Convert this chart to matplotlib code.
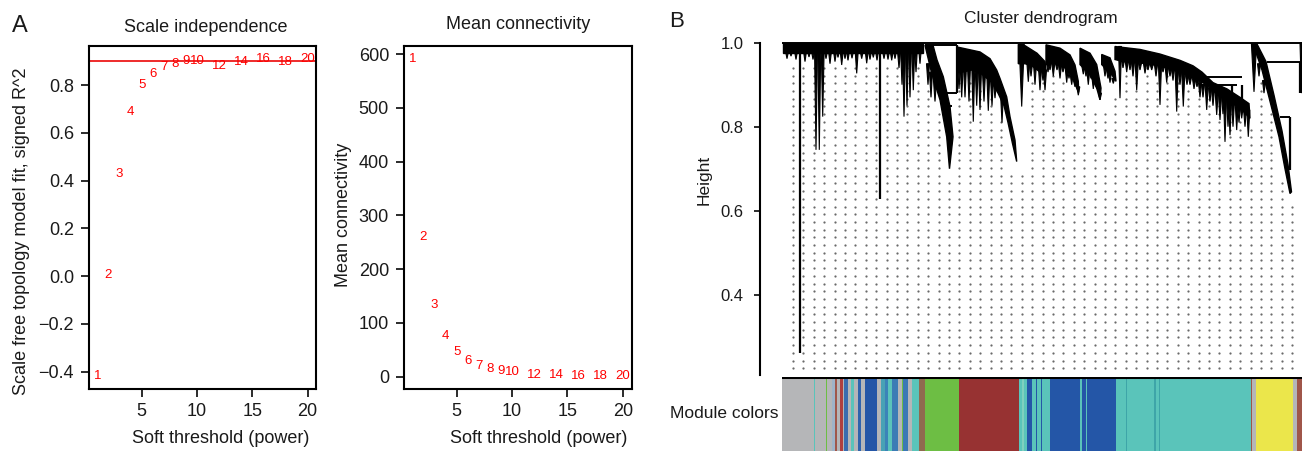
import numpy as np
import matplotlib
matplotlib.use('Agg')
import matplotlib.pyplot as plt

plt.rcParams['font.family'] = ['Liberation Sans', 'DejaVu Sans']
TXT = '#1a1a1a'

W, H = 1308, 451

# ---------------- panel A : soft threshold ----------------
powers = [1, 2, 3, 4, 5, 6, 7, 8, 9, 10, 12, 14, 16, 18, 20]
sft_r2 = [-0.419, 0.004, 0.43, 0.688, 0.803, 0.846, 0.877, 0.888, 0.90, 0.90,
          0.881, 0.896, 0.912, 0.899, 0.909]
mean_k = [591, 260, 134, 76, 46, 30, 20, 14, 11, 8, 4, 2.5, 1.8, 1.4, 1.1]
r2_cut = 0.90

# ---------------- panel B : dendrogram (leaf order 0..520) ----------------
# outline of each module branch (leaf position, height)
grey_u = [1, 141, 141, 1]
grey_h = [1.0, 1.0, 0.976, 0.976]
green_u = [143, 151, 155, 161.3, 168, 171, 167.5, 164.7, 158, 149.7]
green_h = [0.994, 0.994, 0.959, 0.919, 0.848, 0.776, 0.70, 0.776, 0.864, 0.927]
red_u = [174.7, 198, 208, 214.7, 218, 224.7, 228, 233, 234.7,
         230.5, 226, 222, 216, 210, 200, 190, 180, 174.7]
red_h = [0.99, 0.978, 0.962, 0.935, 0.915, 0.871, 0.824, 0.768, 0.717,
         0.76, 0.81, 0.85, 0.88, 0.905, 0.925, 0.935, 0.93, 0.94]
mixed_u = [236.3, 243, 255, 263, 264, 258, 250, 243, 236.3]
mixed_h = [0.996, 0.993, 0.975, 0.955, 0.935, 0.93, 0.945, 0.95, 0.95]
blue1_u = [264, 278, 288, 293, 296.3, 296.7, 294.7, 289.7, 281.3, 271.3, 264]
blue1_h = [0.995, 0.987, 0.971, 0.947, 0.908, 0.882, 0.892, 0.924, 0.944, 0.952, 0.948]
blue2_u = [298, 308, 314.7, 319, 318, 314.7, 308, 301.3, 298]
blue2_h = [0.987, 0.975, 0.948, 0.892, 0.864, 0.892, 0.924, 0.94, 0.948]
blue3_u = [319.7, 328, 333, 334, 329.7, 323, 319.7]
blue3_h = [0.972, 0.964, 0.932, 0.908, 0.924, 0.94, 0.948]
turq_u = [333, 358, 378, 398, 411, 420, 431, 445, 458, 467, 468,
          460, 448, 436, 425, 411, 398, 378, 358, 341, 333]
turq_h = [0.991, 0.984, 0.973, 0.958, 0.945, 0.93, 0.905, 0.89, 0.87, 0.855, 0.82,
          0.84, 0.86, 0.875, 0.9, 0.915, 0.93, 0.945, 0.952, 0.955, 0.96]
yellow_u = [471, 475, 484, 492, 500, 506, 509.5, 508, 503, 497, 488.5, 480]
yellow_h = [0.997, 0.997, 0.955, 0.875, 0.79, 0.71, 0.645, 0.641, 0.70, 0.776, 0.856, 0.935]

# hanging leaves / small sub-branches
spike_u = [5, 9, 14, 23, 27, 31, 34, 37.3, 40.7, 44, 48, 53, 56, 59.7, 63, 66, 70, 74.7,
           79.7, 84.7, 88, 91.3, 95, 102, 106, 109.7, 113, 117,
           120, 122, 125, 128, 131.3, 134, 138,
           146, 149, 153,
           177, 179.7, 183, 187, 191.3, 194.7, 198, 202, 206.3, 210, 213, 220,
           239.7, 246.3, 249, 253, 258, 261, 263,
           266, 268, 271.3, 275, 278, 281, 284.7, 287, 289.7, 293, 296.3,
           301.3, 304, 306.3, 309, 311.3, 315, 318,
           323, 326, 328, 331.3,
           338, 341, 344.7, 348, 351, 354.7, 358, 363, 366, 369.7, 374, 378, 381,
           384.7, 388, 391, 394.7, 398, 401.3, 405, 408, 412, 415, 418,
           421, 424.7, 428, 431, 434.7, 438, 441, 443, 446, 448, 451, 454.7, 457,
           459.7, 463, 466.3,
           472, 477, 482, 519.5]
spike_top = [0.98, 0.98, 0.98, 0.98, 0.98, 0.98, 0.99, 0.99, 0.99, 0.98, 0.98, 0.98, 0.98,
             0.98, 0.98, 0.98, 0.98, 0.98,
             0.98, 0.98, 0.98, 0.98, 0.98, 0.98, 0.98, 0.98, 0.98, 0.98,
             0.99, 0.99, 0.99, 0.99, 0.99, 0.99, 0.99,
             0.95, 0.93, 0.91,
             0.95, 0.945, 0.945, 0.945, 0.945, 0.94, 0.935, 0.93, 0.925, 0.915, 0.905, 0.88,
             0.996, 0.955, 0.95, 0.95, 0.94, 0.935, 0.935,
             0.952, 0.952, 0.952, 0.95, 0.948, 0.945, 0.94, 0.935, 0.925, 0.91, 0.895,
             0.945, 0.94, 0.935, 0.93, 0.92, 0.9, 0.88,
             0.945, 0.935, 0.93, 0.915,
             0.991, 0.958, 0.957, 0.955, 0.954, 0.952, 0.951, 0.95, 0.949, 0.948, 0.947,
             0.945, 0.944,
             0.942, 0.94, 0.936, 0.932, 0.93, 0.926, 0.922, 0.918, 0.914, 0.91, 0.905,
             0.9, 0.897, 0.893, 0.888, 0.882, 0.878, 0.874, 0.872, 0.868, 0.864, 0.86,
             0.856, 0.852,
             0.848, 0.844, 0.84,
             0.998, 0.95, 0.91, 1.0]
spike_bottom = [0.962, 0.968, 0.96, 0.955, 0.966, 0.96, 0.745, 0.745, 0.824, 0.962, 0.95,
                0.955, 0.965, 0.947, 0.962, 0.958, 0.963, 0.927,
                0.962, 0.951, 0.96, 0.965, 0.958, 0.962, 0.96, 0.958, 0.962, 0.94,
                0.90, 0.824, 0.85, 0.87, 0.887, 0.93, 0.95,
                0.9, 0.87, 0.86,
                0.89, 0.87, 0.87, 0.86, 0.812, 0.85, 0.84, 0.86, 0.838, 0.85, 0.868, 0.81,
                0.848, 0.907, 0.92, 0.90, 0.887, 0.91, 0.887,
                0.93, 0.935, 0.92, 0.935, 0.915, 0.93, 0.905, 0.915, 0.9, 0.895, 0.875,
                0.925, 0.92, 0.9, 0.915, 0.89, 0.89, 0.864,
                0.92, 0.915, 0.905, 0.903,
                0.868, 0.94, 0.93, 0.935, 0.92, 0.887, 0.935, 0.927, 0.935, 0.935, 0.92,
                0.852, 0.93,
                0.905, 0.92, 0.91, 0.836, 0.9, 0.848, 0.9, 0.90, 0.89, 0.895, 0.87,
                0.87, 0.84, 0.86, 0.85, 0.828, 0.816, 0.83, 0.764, 0.8, 0.78, 0.8, 0.792,
                0.81, 0.82, 0.8, 0.776,
                0.883, 0.92, 0.88, 0.88]

# horizontal merges and long single leaves
merge_u0 = [0, 143, 163, 164.7, 484.7, 498, 418, 418]
merge_u1 = [520, 174.7, 174.7, 169.7, 518, 508, 460, 455]
merge_h = [1.0, 0.994, 0.88, 0.85, 0.955, 0.824, 0.919, 0.90]
vert_u = [18, 98, 174.7, 518, 508, 449.7, 459.7]
vert_top = [0.99, 0.99, 0.994, 0.955, 0.824, 0.90, 0.90]
vert_bottom = [0.261, 0.627, 0.88, 0.88, 0.697, 0.85, 0.84]

# module colour bar
GREY, TURQ, BLUE, RED, GREEN = '#b5b6b8', '#5ac4ba', '#2456a7', '#973232', '#6dbe44'
YELLOW, BROWN = '#ebe64b', '#a0564a'
stripe_left = [0, 31.8, 32.8, 43.6, 44.6, 50.4, 52.7, 55.4, 58, 60.5, 62.2, 65.6, 69,
               72.3, 76.4, 79.1, 82.5, 95.3, 99.4, 102.8, 106, 109.5, 116.2, 119.6,
               121.3, 126.4, 129.8, 136.5, 143.3, 177.1, 236.9, 239.6, 242, 244.6,
               249.7, 254, 255, 258.5, 259.5, 267.6, 298, 299.7, 303.7, 305.4, 334.1,
               343.5, 344.5, 372, 373.5, 377, 378, 469, 470, 474, 511, 514.5]
stripe_color = [GREY, TURQ, GREY, GREEN, GREY, '#9fb3c8', BROWN, GREY, '#b04040', GREY,
                '#3b6db0', GREY, TURQ, GREY, '#2f63ad', GREY, BLUE, GREY, '#48a2b5',
                '#3b83b8', TURQ, '#3c7cb5', GREY, GREEN, '#3a78b5', GREY, TURQ,
                '#8f6a4f', GREEN, RED, TURQ, '#7fd0bf', TURQ, BLUE, TURQ, BLUE, TURQ,
                BLUE, TURQ, BLUE, TURQ, BLUE, TURQ, BLUE, TURQ, '#3ea5a8', TURQ,
                '#3ea5a8', TURQ, '#3ea5a8', TURQ, BROWN, GREY, YELLOW, GREY, BROWN]
stripe_end = 519.5

fig = plt.figure(figsize=(W / 100, H / 100), dpi=100)


def px_axes(l, t, r, b):
    return fig.add_axes([l / W, 1 - b / H, (r - l) / W, (b - t) / H])


def r_style(ax):
    for s in ax.spines.values():
        s.set_linewidth(1.5)
    ax.tick_params(direction='out', length=5.8, width=1.3, labelsize=13,
                   pad=5, colors=TXT)


# ---- scale independence
ax1 = px_axes(89, 45.5, 316, 388.5)
ax1.set_xlim(0.24, 20.76)
ax1.set_ylim(-0.471, 0.9665)
for p, v in zip(powers, sft_r2):
    ax1.text(p, v, str(p), color='red', ha='center', va='center', fontsize=9.5)
ax1.axhline(r2_cut, color='#ee2b2b', lw=1.4)
ax1.set_xticks([5, 10, 15, 20])
ax1.set_yticks([-0.4, -0.2, 0.0, 0.2, 0.4, 0.6, 0.8])
ax1.set_yticklabels(['\u22120.4', '\u22120.2', '0.0', '0.2', '0.4', '0.6', '0.8'])
r_style(ax1)
ax1.set_xlabel('Soft threshold (power)', fontsize=13, color=TXT, va='baseline')
ax1.xaxis.set_label_coords(0.581, -0.16)
ax1.set_ylabel('Scale free topology model fit, signed R^2', fontsize=13, color=TXT)
ax1.yaxis.set_label_coords(-0.26, 0.459)
ax1.text(0.515, 1.040, 'Scale independence', transform=ax1.transAxes,
         ha='center', va='baseline', fontsize=13, color=TXT)

# ---- mean connectivity
ax2 = px_axes(404, 46, 632, 388.5)
ax2.set_xlim(0.24, 20.83)
ax2.set_ylim(-21.9, 614.9)
for p, v in zip(powers, mean_k):
    ax2.text(p, v, str(p), color='red', ha='center', va='center', fontsize=9.5)
ax2.set_xticks([5, 10, 15, 20])
ax2.set_yticks([0, 100, 200, 300, 400, 500, 600])
r_style(ax2)
ax2.set_xlabel('Soft threshold (power)', fontsize=13, color=TXT, va='baseline')
ax2.xaxis.set_label_coords(0.59, -0.16)
ax2.set_ylabel('Mean connectivity', fontsize=13, color=TXT)
ax2.yaxis.set_label_coords(-0.228, 0.506)
ax2.text(0.5, 1.049, 'Mean connectivity', transform=ax2.transAxes,
         ha='center', va='baseline', fontsize=13, color=TXT)

# ---- cluster dendrogram
ax3 = px_axes(782, 38, 1302, 375)
ax3.set_xlim(0, 520)
ax3.set_ylim(0.209, 1.0112)
outlines = [(grey_u, grey_h), (green_u, green_h), (red_u, red_h), (mixed_u, mixed_h),
            (blue1_u, blue1_h), (blue2_u, blue2_h), (blue3_u, blue3_h),
            (turq_u, turq_h), (yellow_u, yellow_h)]

# leaf texture below the branches
cols = np.arange(11, 520, 10.4)
rows = np.arange(0.225, 1.0, 7.7 / 420)
ou = np.concatenate([o[0] for o in outlines])
oh = np.concatenate([o[1] for o in outlines])
dx, dy = [], []
for c in cols:
    near = oh[np.abs(ou - c) < 6]
    lim = near.min() if len(near) else 0.976
    for r in rows[rows < lim - 0.025]:
        dx.append(c)
        dy.append(r)
ax3.scatter(dx, dy, s=2.6, color='#6a6a6a', lw=0, zorder=1)

for bu, bh in outlines:
    ax3.fill(bu, bh, color='k', lw=1.0, ec='k', zorder=3)
for u, t, b in zip(spike_u, spike_top, spike_bottom):
    w = 2.6 if u in (239.7, 472) else 1.5
    ax3.fill([u - w, u + w, u], [t, t, b], color='k', lw=0.8, ec='k', zorder=3)
ax3.hlines(merge_h, merge_u0, merge_u1, color='k', lw=1.4, zorder=3)
ax3.vlines(vert_u, vert_bottom, vert_top, color='k', lw=1.6, zorder=3)

for s in ['top', 'right', 'bottom']:
    ax3.spines[s].set_visible(False)
ax3.spines['left'].set_position(('outward', 15.8))
ax3.spines['left'].set_bounds(0.209, 1.0)
ax3.spines['left'].set_linewidth(1.5)
ax3.set_xticks([])
ax3.set_yticks([0.4, 0.6, 0.8, 1.0])
ax3.set_yticklabels(['0.4', '0.6', '0.8', '1.0'])
ax3.tick_params(axis='y', direction='out', length=4.3, width=1.3, labelsize=12,
                pad=7.5, colors=TXT)
ax3.set_ylabel('Height', fontsize=12.5, color=TXT)
ax3.yaxis.set_label_coords(-0.135, 0.579)

# ---- module colours
ax4 = px_axes(782, 376.5, 1302, 451)
widths = np.diff(stripe_left + [stripe_end])
ax4.bar(stripe_left, [1] * len(stripe_left), width=widths, align='edge',
        color=stripe_color, lw=0)
ax4.set_xlim(0, 520)
ax4.set_ylim(0, 1)
ax4.axhline(1, color='k', lw=2.2)
ax4.axis('off')

fig.text(778 / W, 1 - 414 / H, 'Module colors', ha='right', va='center',
         fontsize=12.5, color=TXT)
fig.text(1041 / W, 1 - 23 / H, 'Cluster dendrogram', ha='center', va='baseline',
         fontsize=12.5, color=TXT)
fig.text(20 / W, 1 - 31.5 / H, 'A', ha='center', va='baseline', fontsize=17, color=TXT)
fig.text(677 / W, 1 - 27 / H, 'B', ha='center', va='baseline', fontsize=16, color=TXT)

fig.savefig('out.png', dpi=100)
